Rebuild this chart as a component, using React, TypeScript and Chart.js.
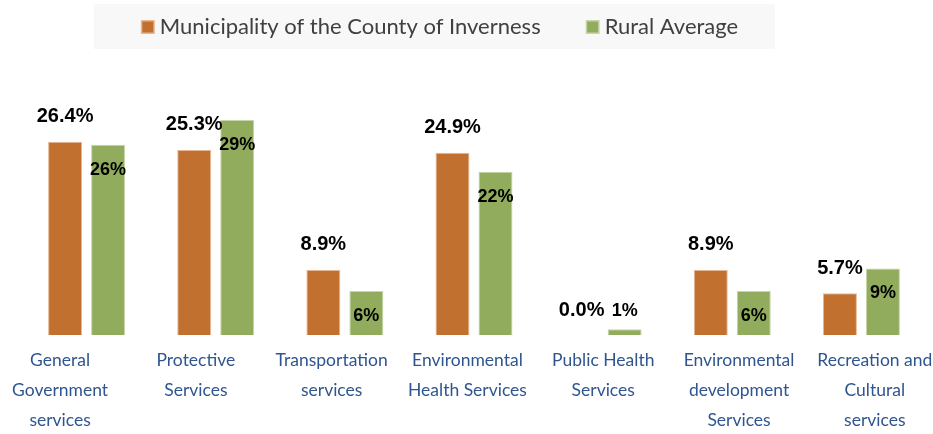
import React, { useEffect, useRef } from "react";
import { Chart, registerables } from "chart.js";

Chart.register(...registerables);

const CATEGORIES = [
  ["General", "Government", "services"],
  ["Protective", "Services"],
  ["Transportation", "services"],
  ["Environmental", "Health Services"],
  ["Public Health", "Services"],
  ["Environmental", "development", "Services"],
  ["Recreation and", "Cultural", "services"],
];
const SERIES_NAMES = ["Municipality of the County of Inverness", "Rural Average"];
const INVERNESS = [26.4, 25.3, 8.9, 24.9, 0.0, 8.9, 5.7];
const RURAL_AVG = [26.0, 29.4, 6.0, 22.3, 0.8, 6.0, 9.1];

const ORANGE = "#C17030";
const ORANGE_EDGE = "#E6B792";
const GREEN = "#91AC5C";
const GREEN_EDGE = "#C6D6A9";
const LABEL_BLUE = "#2F5590";
const LEGEND_TEXT = "#404040";
const FONT = "Lato, 'Open Sans', sans-serif";
const NUM_FONT = "'Liberation Sans', Arial, sans-serif";

const legendPlugin = {
  id: "customLegend",
  beforeDraw(chart: any) {
    const ctx = chart.ctx;
    const ds = chart.data.datasets;
    ctx.save();
    ctx.font = `22px ${FONT}`;
    const sq = 14;
    const gapText = 5;
    const gapItem = 45;
    const widths = ds.map((d: any) => ctx.measureText(d.label).width);
    let total = 0;
    widths.forEach((w: number, i: number) => {
      total += sq + gapText + w + (i < widths.length - 1 ? gapItem : 0);
    });
    const center = 439.5;
    let x = center - total / 2;
    const boxL = x - 47;
    const boxR = x + total + 37;
    ctx.fillStyle = "#F8F8F8";
    ctx.fillRect(boxL, 4, boxR - boxL, 45);
    const cy = 27;
    ds.forEach((d: any, i: number) => {
      ctx.fillStyle = d.borderColor;
      ctx.fillRect(x, cy - sq / 2, sq, sq);
      ctx.fillStyle = d.backgroundColor;
      ctx.fillRect(x + 1.5, cy - sq / 2 + 1.5, sq - 3, sq - 3);
      ctx.fillStyle = LEGEND_TEXT;
      ctx.textBaseline = "middle";
      ctx.textAlign = "left";
      ctx.fillText(d.label, x + sq + gapText, cy);
      x += sq + gapText + widths[i] + gapItem;
    });
    ctx.restore();
  },
};

const valueLabelPlugin = {
  id: "valueLabels",
  afterDatasetsDraw(chart: any) {
    const ctx = chart.ctx;
    ctx.save();
    ctx.textAlign = "center";
    ctx.textBaseline = "middle";
    ctx.fillStyle = "#000000";
    chart.data.datasets.forEach((d: any, di: number) => {
      const meta = chart.getDatasetMeta(di);
      meta.data.forEach((el: any, i: number) => {
        const v = d.data[i];
        if (di === 0) {
          ctx.font = `bold 20px ${NUM_FONT}`;
          ctx.fillText(v.toFixed(1) + "%", el.x, el.y - 25);
        } else {
          ctx.font = `bold 18px ${NUM_FONT}`;
          const h = el.base - el.y;
          const y = h > 30 ? el.y + 25 : el.y - 18;
          ctx.fillText(Math.round(v) + "%", el.x, y);
        }
      });
    });
    ctx.restore();
  },
};

export default function App() {
  const ref = useRef<HTMLCanvasElement | null>(null);

  useEffect(() => {
    document.body.style.margin = "0";
    const canvas = ref.current;
    if (!canvas) return;
    const chart = new Chart(canvas, {
      type: "bar",
      data: {
        labels: CATEGORIES.map((c) => c.join(" ")),
        datasets: [
          {
            label: SERIES_NAMES[0],
            data: INVERNESS,
            backgroundColor: ORANGE,
            borderColor: ORANGE_EDGE,
            borderWidth: 1,
            categoryPercentage: 0.666,
            barPercentage: 0.79,
          },
          {
            label: SERIES_NAMES[1],
            data: RURAL_AVG,
            backgroundColor: GREEN,
            borderColor: GREEN_EDGE,
            borderWidth: 1,
            categoryPercentage: 0.666,
            barPercentage: 0.79,
          },
        ],
      },
      options: {
        responsive: false,
        animation: false,
        layout: { padding: { top: 46, left: 22, right: 7, bottom: 0 } },
        plugins: {
          legend: { display: false },
          tooltip: { enabled: false },
        },
        scales: {
          x: { display: false },
          xl: {
            type: "linear",
            position: "bottom",
            offset: false,
            bounds: "data",
            min: -0.2806,
            max: 6.377,
            grid: { display: false, drawTicks: false, offset: false },
            border: { display: false },
            afterBuildTicks: (scale: any) => {
              scale.ticks = CATEGORIES.map((_, i) => ({ value: i }));
            },
            afterFit: (scale: any) => {
              scale.paddingLeft = 0;
              scale.paddingRight = 0;
              scale.height = 99;
            },
            ticks: {
              autoSkip: false,
              maxRotation: 0,
              minRotation: 0,
              padding: 10,
              color: LABEL_BLUE,
              font: { family: FONT, size: 17.5, lineHeight: 1.72 },
              callback: (v: any) => CATEGORIES[Math.round(v)] || "",
            },
          },
          y: { display: false, min: 0, max: 39.5 },
        },
      },
      plugins: [legendPlugin, valueLabelPlugin],
    });
    return () => chart.destroy();
  }, []);

  return (
    <div style={{ width: 933, height: 434, background: "#FFFFFF" }}>
      <canvas ref={ref} width={933} height={434} />
    </div>
  );
}
